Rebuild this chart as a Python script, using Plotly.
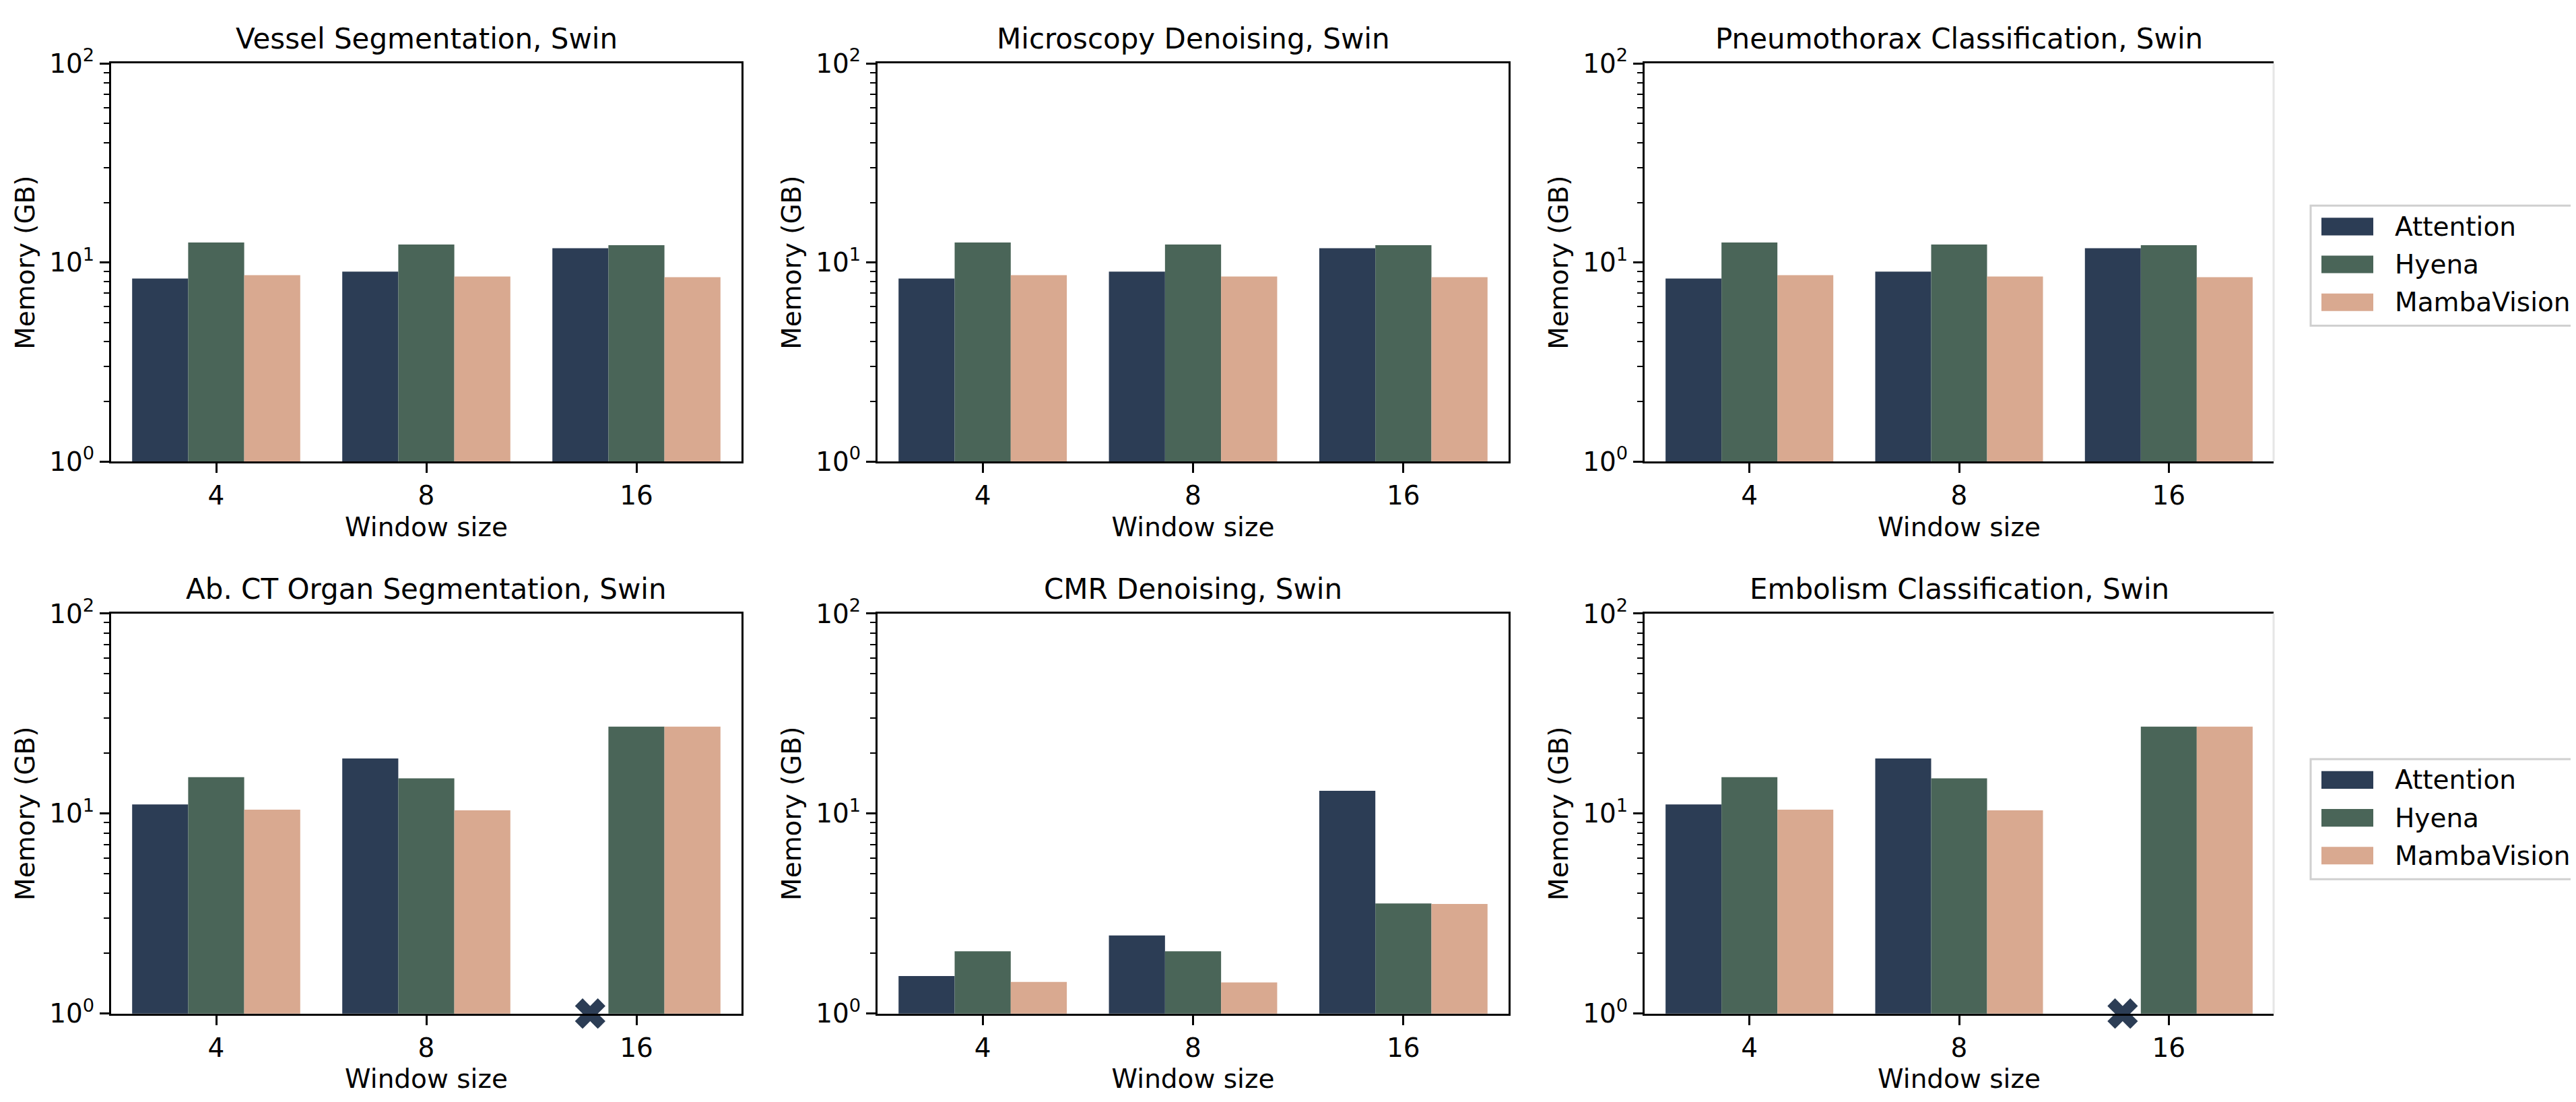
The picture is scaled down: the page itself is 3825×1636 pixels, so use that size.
import plotly.graph_objects as go

# ---------------- data ----------------
window_sizes = ["4", "8", "16"]
series_names = ["Attention", "Hyena", "MambaVision"]
series_colors = ["#2c3d55", "#4a6558", "#d9a990"]

panel_titles = [
    "Vessel Segmentation, Swin",
    "Microscopy Denoising, Swin",
    "Pneumothorax Classification, Swin",
    "Ab. CT Organ Segmentation, Swin",
    "CMR Denoising, Swin",
    "Embolism Classification, Swin",
]

vessel_attention = [8.3, 9.0, 11.8]
vessel_hyena = [12.6, 12.3, 12.2]
vessel_mamba = [8.64, 8.5, 8.44]

microscopy_attention = [8.3, 9.0, 11.8]
microscopy_hyena = [12.6, 12.3, 12.2]
microscopy_mamba = [8.64, 8.5, 8.44]

pneumothorax_attention = [8.3, 9.0, 11.8]
pneumothorax_hyena = [12.6, 12.3, 12.2]
pneumothorax_mamba = [8.64, 8.5, 8.44]

abct_attention = [11.1, 18.85, None]   # None = out of memory (X marker)
abct_hyena = [15.2, 15.0, 27.2]
abct_mamba = [10.46, 10.38, 27.2]

cmr_attention = [1.54, 2.46, 13.0]
cmr_hyena = [2.05, 2.05, 3.55]
cmr_mamba = [1.44, 1.43, 3.53]

embolism_attention = [11.1, 18.85, None]
embolism_hyena = [15.2, 15.0, 27.2]
embolism_mamba = [10.46, 10.38, 27.2]

panel_series = [
    [vessel_attention, vessel_hyena, vessel_mamba],
    [microscopy_attention, microscopy_hyena, microscopy_mamba],
    [pneumothorax_attention, pneumothorax_hyena, pneumothorax_mamba],
    [abct_attention, abct_hyena, abct_mamba],
    [cmr_attention, cmr_hyena, cmr_mamba],
    [embolism_attention, embolism_hyena, embolism_mamba],
]

y_tick_vals = [1, 10, 100]
y_tick_text = ["10<sup>0</sup>", "10<sup>1</sup>", "10<sup>2</sup>"]
y_minor_vals = [m * d for d in (1, 10) for m in range(2, 10)]

# ---------------- style / layout ----------------
W, H = 3825, 1636
FONT = "DejaVu Sans"
FS = 39
TITLE_FS = 42
col_px = [(157, 1093), (1295, 2232), (2434, 3368)]
row_px = [(60, 670), (903, 1516)]
missing_offset = -0.22
txt_font = dict(family=FONT, size=FS, color="black")

fig = go.Figure()
cats = list(range(len(window_sizes)))

for i, series in enumerate(panel_series):
    k = i + 1
    xa = "x" if k == 1 else f"x{k}"
    ya = "y" if k == 1 else f"y{k}"
    for name, color, vals in zip(series_names, series_colors, series):
        fig.add_trace(go.Bar(
            x=cats, y=vals, name=name, marker=dict(color=color, line=dict(width=0)),
            xaxis=xa, yaxis=ya, showlegend=False,
        ))
    # missing attention values -> X marker at the bottom
    att = series[0]
    miss_x = [c + missing_offset for c, v in zip(cats, att) if v is None]
    if miss_x:
        fig.add_trace(go.Scatter(
            x=miss_x, y=[y_tick_vals[0]] * len(miss_x), mode="markers",
            marker=dict(symbol="x", size=40, color=series_colors[0], line=dict(width=0)),
            xaxis=xa, yaxis=ya, showlegend=False, cliponaxis=False,
        ))

layout = {}
annotations = []
shapes = []
for i in range(6):
    k = i + 1
    r, c = divmod(i, 3)
    x0, x1 = col_px[c]
    y0, y1 = row_px[r]
    xkey = "xaxis" if k == 1 else f"xaxis{k}"
    ykey = "yaxis" if k == 1 else f"yaxis{k}"
    layout[xkey] = dict(
        domain=[x0 / W, x1 / W], anchor="y" if k == 1 else f"y{k}",
        range=[-0.5, len(cats) - 0.5], tickvals=cats, ticktext=window_sizes,
        ticks="outside", ticklen=14, tickwidth=3, tickcolor="black",
        showline=True, linecolor="black", linewidth=3, mirror=True,
        showgrid=False, zeroline=False, tickfont=txt_font,
        title=dict(text="Window size", standoff=12, font=txt_font),
    )
    layout[ykey] = dict(
        domain=[1 - y1 / H, 1 - y0 / H], anchor="x" if k == 1 else f"x{k}",
        type="log", range=[0, 2], tickvals=y_tick_vals, ticktext=y_tick_text,
        ticks="outside", ticklen=14, tickwidth=3, tickcolor="black",
        minor=dict(tickmode="array", tickvals=y_minor_vals, ticks="outside",
                   ticklen=8, tickwidth=2, tickcolor="black", showgrid=False),
        showline=True, linecolor="black", linewidth=3, mirror=(c != 2),
        showgrid=False, zeroline=False, tickfont=txt_font,
        title=dict(text="Memory (GB)", standoff=10, font=txt_font),
    )
    if c == 2:
        shapes.append(dict(type="line", xref=f"x{k} domain", yref=f"y{k} domain",
                           x0=1, x1=1, y0=0, y1=1,
                           line=dict(color="#e6e6e6", width=3)))
    annotations.append(dict(
        text=panel_titles[i], x=(x0 + x1) / 2 / W, y=1 - (y0 - 38) / H,
        xref="paper", yref="paper", xanchor="center", yanchor="middle",
        showarrow=False, font=dict(family=FONT, size=TITLE_FS, color="black"),
    ))

# manual legends (one per row), right of the panels
for top in (278, 1126):
    shapes.append(dict(type="rect", xref="paper", yref="paper",
                       x0=3423 / W, x1=3817 / W, y0=1 - (top + 184) / H, y1=1 - top / H,
                       line=dict(color="#d0d0d0", width=3), fillcolor="white"))
    for j, (name, color) in enumerate(zip(series_names, series_colors)):
        cy = top + 32 + 58 * j
        shapes.append(dict(type="rect", xref="paper", yref="paper",
                           x0=3439 / W, x1=3516 / W,
                           y0=1 - (cy + 13.5) / H, y1=1 - (cy - 13.5) / H,
                           line=dict(width=0), fillcolor=color))
        annotations.append(dict(
            text=name, x=3546 / W, y=1 - cy / H, xref="paper", yref="paper",
            xanchor="left", yanchor="middle", showarrow=False, font=txt_font,
        ))

fig.update_layout(
    **layout,
    annotations=annotations, shapes=shapes,
    barmode="group", bargap=0.2, bargroupgap=0,
    width=W, height=H, margin=dict(l=0, r=0, t=0, b=0),
    paper_bgcolor="white", plot_bgcolor="white",
    font=txt_font,
    showlegend=False,
)

fig.write_html("out.html")
